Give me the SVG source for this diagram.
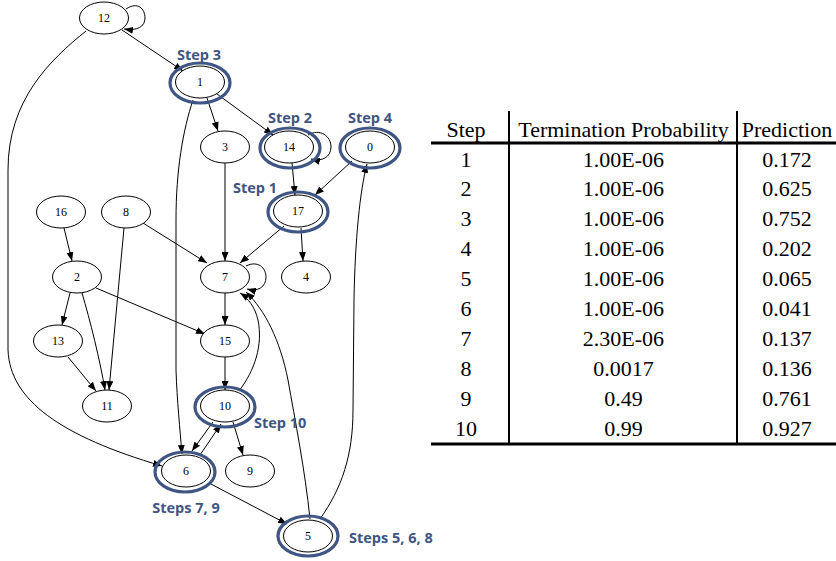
<svg xmlns="http://www.w3.org/2000/svg" width="836" height="561" viewBox="0 0 836 561">
<defs>
<marker id="ah" markerUnits="userSpaceOnUse" markerWidth="9" markerHeight="7" refX="9" refY="3.5" orient="auto"><path d="M0,0 L9,3.5 L0,7 z" fill="#000"/></marker>
<style>
.n ellipse{fill:#fff;stroke:#000;stroke-width:1}
.n ellipse.ring{fill:none;stroke:#3F5583;stroke-width:3.2}
.n text{font-size:12px;text-anchor:middle;fill:#000}
.e path{fill:none;stroke:#000;stroke-width:1;marker-end:url(#ah)}
.lab{font-family:"Open Sans","Liberation Sans",sans-serif;font-weight:700;font-size:14.5px;fill:#3F5583}
.t text{font-size:22px;text-anchor:middle;fill:#000}
.t line{stroke:#000}
</style>
</defs>
<rect width="836" height="561" fill="#fff"/>
<g id="edges" class="e">
<path d="M126,9 C138,1 145,9 145,18 C145,27 137,31 124,29"/>
<path d="M122,30 L183,71"/>
<path d="M86,31 C50,60 8,100 8,170 L8,350 C10,400 60,436 162,466"/>
<path d="M207,98 L218,131"/>
<path d="M217,94 L273,135"/>
<path d="M193,100 C183,130 176,170 176,220 L176,370 C177,400 180,430 182,454"/>
<path d="M308,135 C320,128 331,136 331,147 C331,157 322,162 311,159"/>
<path d="M292,163 L295,195"/>
<path d="M352,161 L315,195"/>
<path d="M320,519 C342,488 353,455 353,410 L354,300 C355,240 360,190 367,164"/>
<path d="M225,163 L225,261"/>
<path d="M143,223 L207,263"/>
<path d="M284,226 L240,263"/>
<path d="M301,228 L303,261"/>
<path d="M246,266 C258,260 266,268 266,277 C266,287 258,292 247,289"/>
<path d="M64,228 L72,261"/>
<path d="M124,228 L109,390"/>
<path d="M82,293 C90,320 100,360 105,390"/>
<path d="M70,293 L62,325"/>
<path d="M96,288 L205,334"/>
<path d="M68,357 L96,391"/>
<path d="M225,293 L225,325"/>
<path d="M225,357 L225,390"/>
<path d="M239,391 C255,370 263,345 258,320 C255,307 248,298 240,293"/>
<path d="M310,519 C305,470 295,420 288,380 C280,340 265,310 246,292"/>
<path d="M213,422 L192,451"/>
<path d="M200,455 L221,424"/>
<path d="M233,422 L243,455"/>
<path d="M209,483 L287,524"/>
</g>
<g font-family="'Liberation Serif','Times New Roman',Tinos,'DejaVu Serif',serif">
<g id="n12" class="n"><ellipse cx="104" cy="18" rx="24.5" ry="16"/><text x="104" y="22">12</text></g>
<g id="n1" class="n"><ellipse class="ring" cx="200" cy="83" rx="30" ry="20"/><ellipse cx="200" cy="82" rx="24.5" ry="16"/><text x="200" y="86">1</text></g>
<g id="n3" class="n"><ellipse cx="225" cy="147" rx="24.5" ry="16"/><text x="225" y="151">3</text></g>
<g id="n14" class="n"><ellipse class="ring" cx="290" cy="148" rx="30" ry="20"/><ellipse cx="289" cy="147" rx="24.5" ry="16"/><text x="289" y="151">14</text></g>
<g id="n0" class="n"><ellipse class="ring" cx="370" cy="148" rx="30" ry="20"/><ellipse cx="370" cy="147" rx="24.5" ry="16"/><text x="370" y="151">0</text></g>
<g id="n17" class="n"><ellipse class="ring" cx="298" cy="212" rx="30" ry="20"/><ellipse cx="298" cy="211" rx="24.5" ry="16"/><text x="298" y="215">17</text></g>
<g id="n16" class="n"><ellipse cx="61" cy="212" rx="24.5" ry="16"/><text x="61" y="216">16</text></g>
<g id="n8" class="n"><ellipse cx="126" cy="212" rx="24.5" ry="16"/><text x="126" y="216">8</text></g>
<g id="n2" class="n"><ellipse cx="77" cy="277" rx="24.5" ry="16"/><text x="77" y="281">2</text></g>
<g id="n7" class="n"><ellipse cx="225" cy="277" rx="24.5" ry="16"/><text x="225" y="281">7</text></g>
<g id="n4" class="n"><ellipse cx="306" cy="277" rx="24.5" ry="16"/><text x="306" y="281">4</text></g>
<g id="n13" class="n"><ellipse cx="58" cy="341" rx="24.5" ry="16"/><text x="58" y="345">13</text></g>
<g id="n15" class="n"><ellipse cx="225" cy="341" rx="24.5" ry="16"/><text x="225" y="345">15</text></g>
<g id="n11" class="n"><ellipse cx="107" cy="406" rx="24.5" ry="16"/><text x="107" y="410">11</text></g>
<g id="n10" class="n"><ellipse class="ring" cx="225" cy="407" rx="30" ry="20"/><ellipse cx="225" cy="406" rx="24.5" ry="16"/><text x="225" y="410">10</text></g>
<g id="n6" class="n"><ellipse class="ring" cx="185" cy="472" rx="30" ry="20"/><ellipse cx="186" cy="471" rx="24.5" ry="16"/><text x="186" y="475">6</text></g>
<g id="n9" class="n"><ellipse cx="250" cy="471" rx="24.5" ry="16"/><text x="250" y="475">9</text></g>
<g id="n5" class="n"><ellipse class="ring" cx="308" cy="536" rx="30" ry="20"/><ellipse cx="308" cy="536" rx="24.5" ry="16"/><text x="308" y="540">5</text></g>
</g>
<g id="labels">
<text class="lab" x="199" y="60" text-anchor="middle">Step 3</text>
<text class="lab" x="290" y="123" text-anchor="middle">Step 2</text>
<text class="lab" x="370" y="123" text-anchor="middle">Step 4</text>
<text class="lab" x="255" y="193" text-anchor="middle">Step 1</text>
<text class="lab" x="254" y="428">Step 10</text>
<text class="lab" x="186" y="513" text-anchor="middle">Steps 7, 9</text>
<text class="lab" x="349" y="543">Steps 5, 6, 8</text>
</g>
<g id="table" class="t" font-family="'Liberation Serif','Times New Roman',Tinos,'DejaVu Serif',serif">
<line x1="509" y1="111" x2="509" y2="444" stroke-width="2"/>
<line x1="737" y1="111" x2="737" y2="444" stroke-width="2"/>
<line x1="431" y1="143" x2="836" y2="143" stroke-width="3"/>
<line x1="431" y1="444" x2="836" y2="444" stroke-width="3"/>
<text x="466" y="137">Step</text><text x="623.5" y="137">Termination Probability</text><text x="787" y="137">Prediction</text>
<text x="466" y="166.5">1</text><text x="623.5" y="166.5">1.00E-06</text><text x="787" y="166.5">0.172</text>
<text x="466" y="196.4">2</text><text x="623.5" y="196.4">1.00E-06</text><text x="787" y="196.4">0.625</text>
<text x="466" y="226.3">3</text><text x="623.5" y="226.3">1.00E-06</text><text x="787" y="226.3">0.752</text>
<text x="466" y="256.2">4</text><text x="623.5" y="256.2">1.00E-06</text><text x="787" y="256.2">0.202</text>
<text x="466" y="286.1">5</text><text x="623.5" y="286.1">1.00E-06</text><text x="787" y="286.1">0.065</text>
<text x="466" y="316">6</text><text x="623.5" y="316">1.00E-06</text><text x="787" y="316">0.041</text>
<text x="466" y="345.9">7</text><text x="623.5" y="345.9">2.30E-06</text><text x="787" y="345.9">0.137</text>
<text x="466" y="375.8">8</text><text x="623.5" y="375.8">0.0017</text><text x="787" y="375.8">0.136</text>
<text x="466" y="405.7">9</text><text x="623.5" y="405.7">0.49</text><text x="787" y="405.7">0.761</text>
<text x="466" y="435.6">10</text><text x="623.5" y="435.6">0.99</text><text x="787" y="435.6">0.927</text>
</g>
</svg>
